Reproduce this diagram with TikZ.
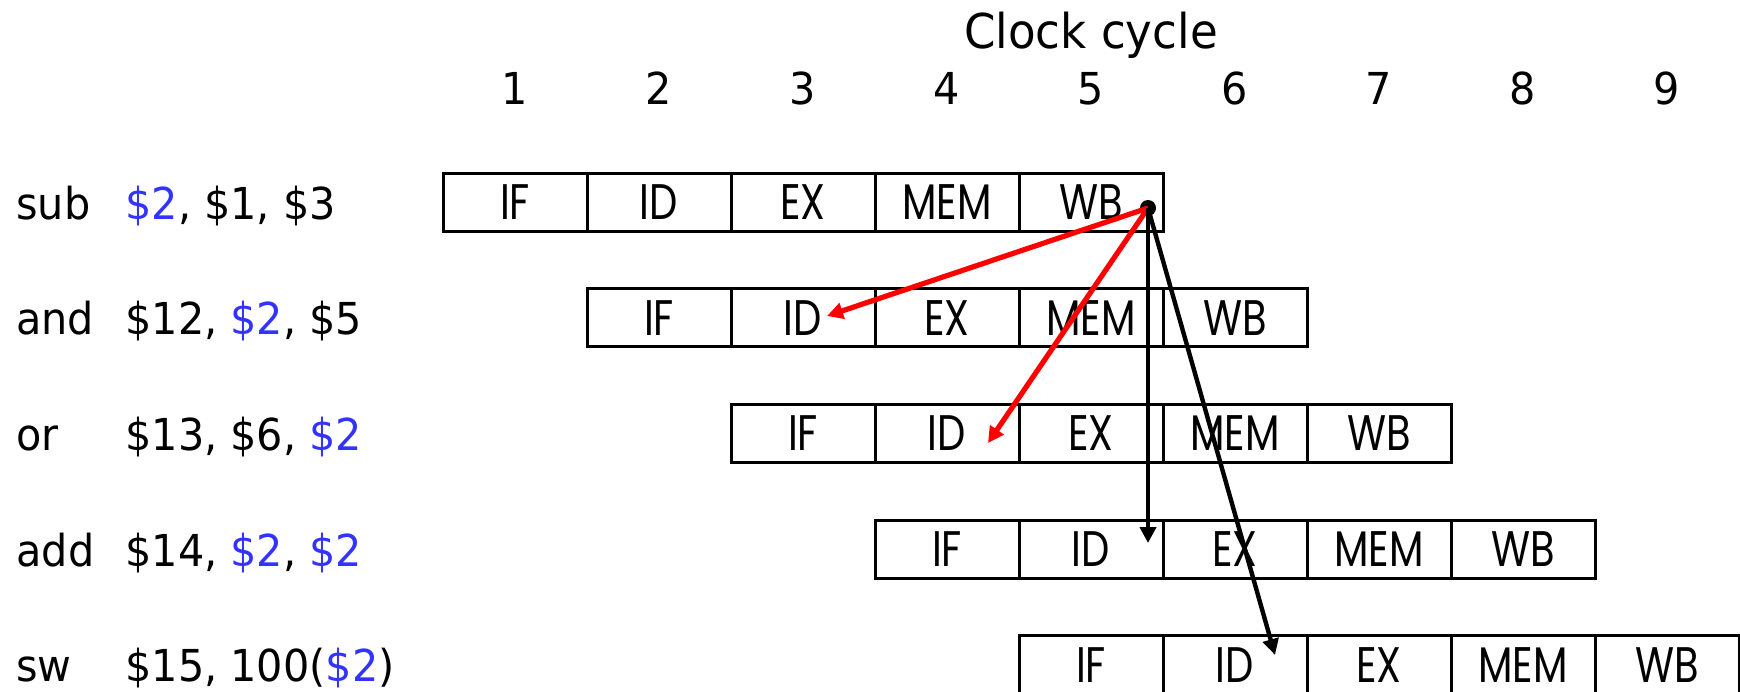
\documentclass[tikz,border=0pt]{standalone}
\usepackage{fontspec}
\setmainfont{DejaVu Sans}[FakeStretch=0.94]
\newfontfamily\stagefont{Poppins}[FakeStretch=0.8]
\usetikzlibrary{positioning,arrows.meta}
\definecolor{regblue}{RGB}{51,51,255}
\newcommand{\rtwo}{\textcolor{regblue}{\$2}}

\begin{document}
\begin{tikzpicture}[x=0.5pt, y=-0.5pt,
  stage/.style = {draw, line width=1.5pt, minimum width=72pt, minimum height=29pt, inner sep=0pt, outer sep=0pt, font=\stagefont\fontsize{25pt}{30pt}\selectfont},
  instr/.style = {anchor=base west, inner sep=0pt, font=\fontsize{22pt}{26pt}\selectfont},
  cyclenum/.style = {anchor=base, inner sep=0pt, font=\fontsize{22pt}{26pt}\selectfont},
  fwd/.style = {-{Triangle[length=8pt, width=8pt]}, line width=2.6pt, red},
  dep/.style = {-{Triangle[length=8pt, width=8pt]}, line width=2.2pt}]
\useasboundingbox (0,0) rectangle (1740,691);

% clock cycles
\node[cyclenum, font=\fontsize{24pt}{29pt}\selectfont] (clk) at (1091,48) {Clock cycle};
\foreach \k in {1,...,9}
  \node[cyclenum] (n\k) at ({443+144*(\k-0.5)},104) {\k};

% instructions
\node[instr] (op1) at (16,219) {sub};   \node[instr] (arg1) at (125,219) {\rtwo, \$1, \$3};
\node[instr] (op2) at (16,334.7) {and}; \node[instr] (arg2) at (125,334.7) {\$12, \rtwo, \$5};
\node[instr] (op3) at (16,450.4) {or};  \node[instr] (arg3) at (125,450.4) {\$13, \$6, \rtwo};
\node[instr] (op4) at (16,566.1) {add}; \node[instr] (arg4) at (125,566.1) {\$14, \rtwo, \rtwo};
\node[instr] (op5) at (16,681.8) {sw};  \node[instr] (arg5) at (125,681.8) {\$15, 100(\rtwo)};

% pipeline stages
\foreach \r in {1,...,5}
  \foreach \s [count=\k] in {IF,ID,EX,MEM,WB}
    \node[stage] (c\r\k) at ({443+144*(\r+\k-1.5)},{202+115.7*(\r-1)}) {\s};

% dependences
\node[circle, fill, inner sep=0pt, minimum size=8pt] (src) at (1148,208) {};
\coordinate (t2) at (827,316);
\coordinate (t3) at (988,443);
\coordinate (t4) at (1148,543);
\coordinate (t5) at (1275,655);
\draw[fwd] (src.center) -- (t2);
\draw[fwd] (src.center) -- (t3);
\draw[dep] (src.center) -- (t4);
\draw[dep] (src.center) -- (t5);
\end{tikzpicture}
\end{document}
